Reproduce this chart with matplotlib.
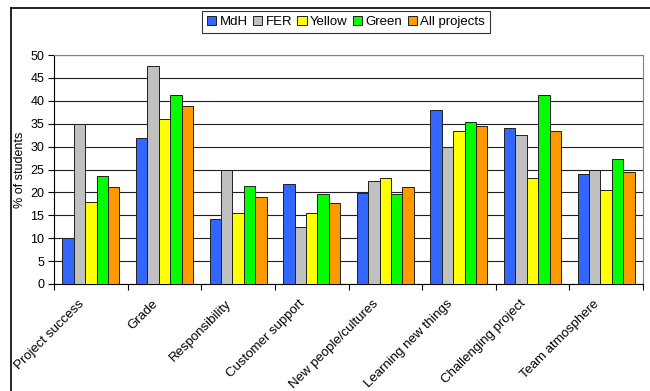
import matplotlib
matplotlib.use('Agg')
import matplotlib.pyplot as plt
import matplotlib.transforms as mtransforms
from matplotlib.lines import Line2D
import numpy as np

plt.rcParams['font.family'] = ['Liberation Sans', 'DejaVu Sans']

# podatki odčitani s slike
categories = ['Project success', 'Grade', 'Responsibility', 'Customer support',
              'New people/cultures', 'Learning new things', 'Challenging project',
              'Team atmosphere']
series_names = ['MdH', 'FER', 'Yellow', 'Green', 'All projects']
mdh = [10.0, 31.9, 14.1, 21.9, 19.9, 38.0, 34.0, 24.0]
fer = [34.9, 47.5, 24.9, 12.5, 22.4, 30.0, 32.5, 24.9]
yellow = [17.8, 36.0, 15.4, 15.4, 23.2, 33.3, 23.2, 20.5]
green = [23.5, 41.2, 21.5, 19.6, 19.6, 35.3, 41.2, 27.4]
all_projects = [21.1, 38.9, 18.9, 17.7, 21.1, 34.4, 33.3, 24.4]
colors = ['#3366ff', '#c0c0c0', '#ffff00', '#00ff00', '#ff9900']
y_ticks = list(range(0, 55, 5))

series = [mdh, fer, yellow, green, all_projects]

fig = plt.figure(figsize=(6.5, 3.91), dpi=100)
ax = fig.add_axes([54 / 650, 1 - 284 / 391, (643 - 54) / 650, (284 - 55) / 391])

x = np.arange(len(categories))
bw = 0.155
for i, (vals, col, name) in enumerate(zip(series, colors, series_names)):
    ax.bar(x + (i - 2) * bw, vals, width=bw, color=col, edgecolor='#202020',
           linewidth=0.7, label=name, zorder=3)

ax.set_xlim(-0.5, len(categories) - 0.5)
ax.set_ylim(0, 50)
ax.set_yticks(y_ticks)
ax.yaxis.grid(True, color='#202020', linewidth=0.8, zorder=0)
ax.set_axisbelow(True)

# tick oznake na mejah kategorij
ax.set_xticks(np.arange(len(categories) + 1) - 0.5)
ax.set_xticklabels([])
ax.set_xticks(x, minor=True)
ax.set_xticklabels(categories, minor=True, rotation=45, ha='right',
                   rotation_mode='anchor', fontsize=9.5)
ax.tick_params(axis='x', which='minor', length=0, pad=10)
ax.tick_params(axis='x', which='major', length=4, direction='out', width=0.8)
ax.tick_params(axis='y', length=4, direction='out', width=0.8, labelsize=9, pad=3)

# malo zamakni oznake levo
off = mtransforms.ScaledTranslation(-13 / 100, 0, fig.dpi_scale_trans)
for lab in ax.get_xticklabels(minor=True):
    lab.set_transform(lab.get_transform() + off)

ax.spines['left'].set_color('black')
ax.spines['bottom'].set_color('black')
ax.spines['top'].set_color('#808080')
ax.spines['right'].set_color('#808080')

ax.set_ylabel('% of students', fontsize=9, labelpad=3)

leg = fig.legend(loc='center', bbox_to_anchor=(346 / 650, 1 - 22 / 391), ncol=5,
                 fontsize=9.5, frameon=True, fancybox=False, edgecolor='black',
                 handlelength=0.7, handleheight=0.7, handletextpad=0.25,
                 columnspacing=0.4, borderpad=0.35, borderaxespad=0)
leg.get_frame().set_linewidth(0.8)

# zunanji okvir grafa
fig.add_artist(Line2D([11 / 650, 1.0], [1 - 8 / 391, 1 - 8 / 391],
                      transform=fig.transFigure, color='black', linewidth=1.2))
fig.add_artist(Line2D([11 / 650, 11 / 650], [0.0, 1 - 8 / 391],
                      transform=fig.transFigure, color='black', linewidth=1.2))

fig.savefig('out.png', dpi=100)
